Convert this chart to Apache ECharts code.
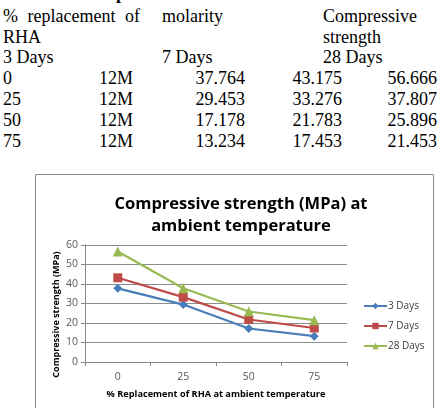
<!DOCTYPE html>
<html>
<head>
<meta charset="utf-8">
<script src="https://cdn.jsdelivr.net/npm/echarts@6/dist/echarts.min.js"></script>
<style>
  html, body { margin: 0; padding: 0; background: #fff; }
  body { width: 444px; height: 408px; overflow: hidden; position: relative; }
  #table { position: absolute; left: 0; top: 0; width: 444px; height: 170px;
    font-family: "Liberation Serif", "DejaVu Serif", serif; font-size: 18px; color: #000; }
  #table span { position: absolute; white-space: nowrap; line-height: 21px; }
  #chart { position: absolute; left: 0; top: 0; width: 444px; height: 408px; }
</style>
</head>
<body>
<div id="table"></div>
<div id="chart"></div>
<script>
const replacement = ['0', '25', '50', '75']
const molarity = ['12M', '12M', '12M', '12M']
const days3 = [37.764, 29.453, 17.178, 13.234]
const days7 = [43.175, 33.276, 21.783, 17.453]
const days28 = [56.666, 37.807, 25.896, 21.453]
const seriesNames = ['3 Days', '7 Days', '28 Days']
const yTicks = { min: 0, max: 60, interval: 10 }

// text table above the chart
const table = document.getElementById('table')
const rowH = 20.8
const addCell = (text, row, pos, align, extra) => {
  const s = document.createElement('span')
  s.textContent = text
  s.style.top = (5.8 + row * rowH) + 'px'
  if (align === 'right') s.style.right = (444 - pos) + 'px'
  else s.style.left = pos + 'px'
  if (extra) Object.assign(s.style, extra)
  table.appendChild(s)
}
addCell('at ambient temperature', -1, 0, 'left', { fontWeight: 'bold', top: '-17px' })
addCell('% replacement of', 0, 3, 'left', { wordSpacing: '5px' })
addCell('molarity', 0, 162)
addCell('Compressive', 0, 323)
addCell('RHA', 1, 3)
addCell('strength', 1, 323)
addCell('3 Days', 2, 3)
addCell('7 Days', 2, 162)
addCell('28 Days', 2, 323)
replacement.forEach((r, i) => {
  addCell(r, 3 + i, 3)
  addCell(molarity[i], 3 + i, 133, 'right')
  addCell(days3[i].toFixed(3), 3 + i, 245, 'right')
  addCell(days7[i].toFixed(3), 3 + i, 342, 'right')
  addCell(days28[i].toFixed(3), 3 + i, 437, 'right')
})

const chart = echarts.init(document.getElementById('chart'))
const font = '"Open Sans", "Noto Sans", sans-serif'
const colors = ['#4a7ebb', '#be4b48', '#98b954']
const symbols = ['diamond', 'rect', 'triangle']
const sizes = [9, 9, 10]
const values = [days3, days7, days28]

const option = {
  animation: false,
  color: colors,
  textStyle: { fontFamily: font },
  graphic: [{
    type: 'rect',
    shape: { x: 35.5, y: 174.5, width: 398, height: 250 },
    style: { fill: '#fff', stroke: '#8a8a8a', lineWidth: 1 },
    z: -10
  }],
  title: {
    text: 'Compressive strength (MPa) at\nambient temperature',
    left: 236,
    textAlign: 'center',
    top: 188,
    textStyle: { fontFamily: font, fontSize: 16.5, fontWeight: 'bold', color: '#000', lineHeight: 22 }
  },
  legend: {
    orient: 'vertical',
    left: 358,
    top: 296,
    itemWidth: 23,
    itemHeight: 8,
    itemGap: 10,
    textStyle: { fontFamily: font, fontSize: 10, color: '#404040', padding: [0, 0, 0, -4] },
    data: seriesNames
  },
  grid: { left: 85, right: 97, top: 245, bottom: 46 },
  xAxis: {
    type: 'category',
    data: replacement,
    boundaryGap: true,
    name: '% Replacement of RHA at ambient temperature',
    nameLocation: 'middle',
    nameGap: 28,
    nameTextStyle: { fontFamily: font, fontSize: 9.2, fontWeight: 'bold', color: '#000' },
    axisLine: { lineStyle: { color: '#868686' } },
    axisTick: { show: true, interval: 0, length: 4, lineStyle: { color: '#868686' } },
    axisLabel: { margin: 10, fontSize: 10.5, color: '#595959', fontFamily: font }
  },
  yAxis: {
    type: 'value',
    min: yTicks.min,
    max: yTicks.max,
    interval: yTicks.interval,
    name: 'Compressive strength (MPa)',
    nameLocation: 'middle',
    nameGap: 24,
    nameMoveOverlap: false,
    nameTextStyle: { fontFamily: font, fontSize: 9, fontWeight: 'bold', color: '#000', padding: [0, 22, 0, 0] },
    axisLine: { show: true, lineStyle: { color: '#868686' } },
    axisTick: { show: true, length: 4, lineStyle: { color: '#868686' } },
    splitLine: { lineStyle: { color: '#8c8c8c' } },
    axisLabel: { margin: 7, fontSize: 10.5, color: '#595959', fontFamily: font }
  },
  series: seriesNames.map((name, i) => ({
    name,
    type: 'line',
    data: values[i],
    symbol: symbols[i],
    symbolSize: sizes[i],
    lineStyle: { width: 2.2, color: colors[i] },
    itemStyle: { color: colors[i] }
  }))
}
chart.setOption(option)
</script>
</body>
</html>
